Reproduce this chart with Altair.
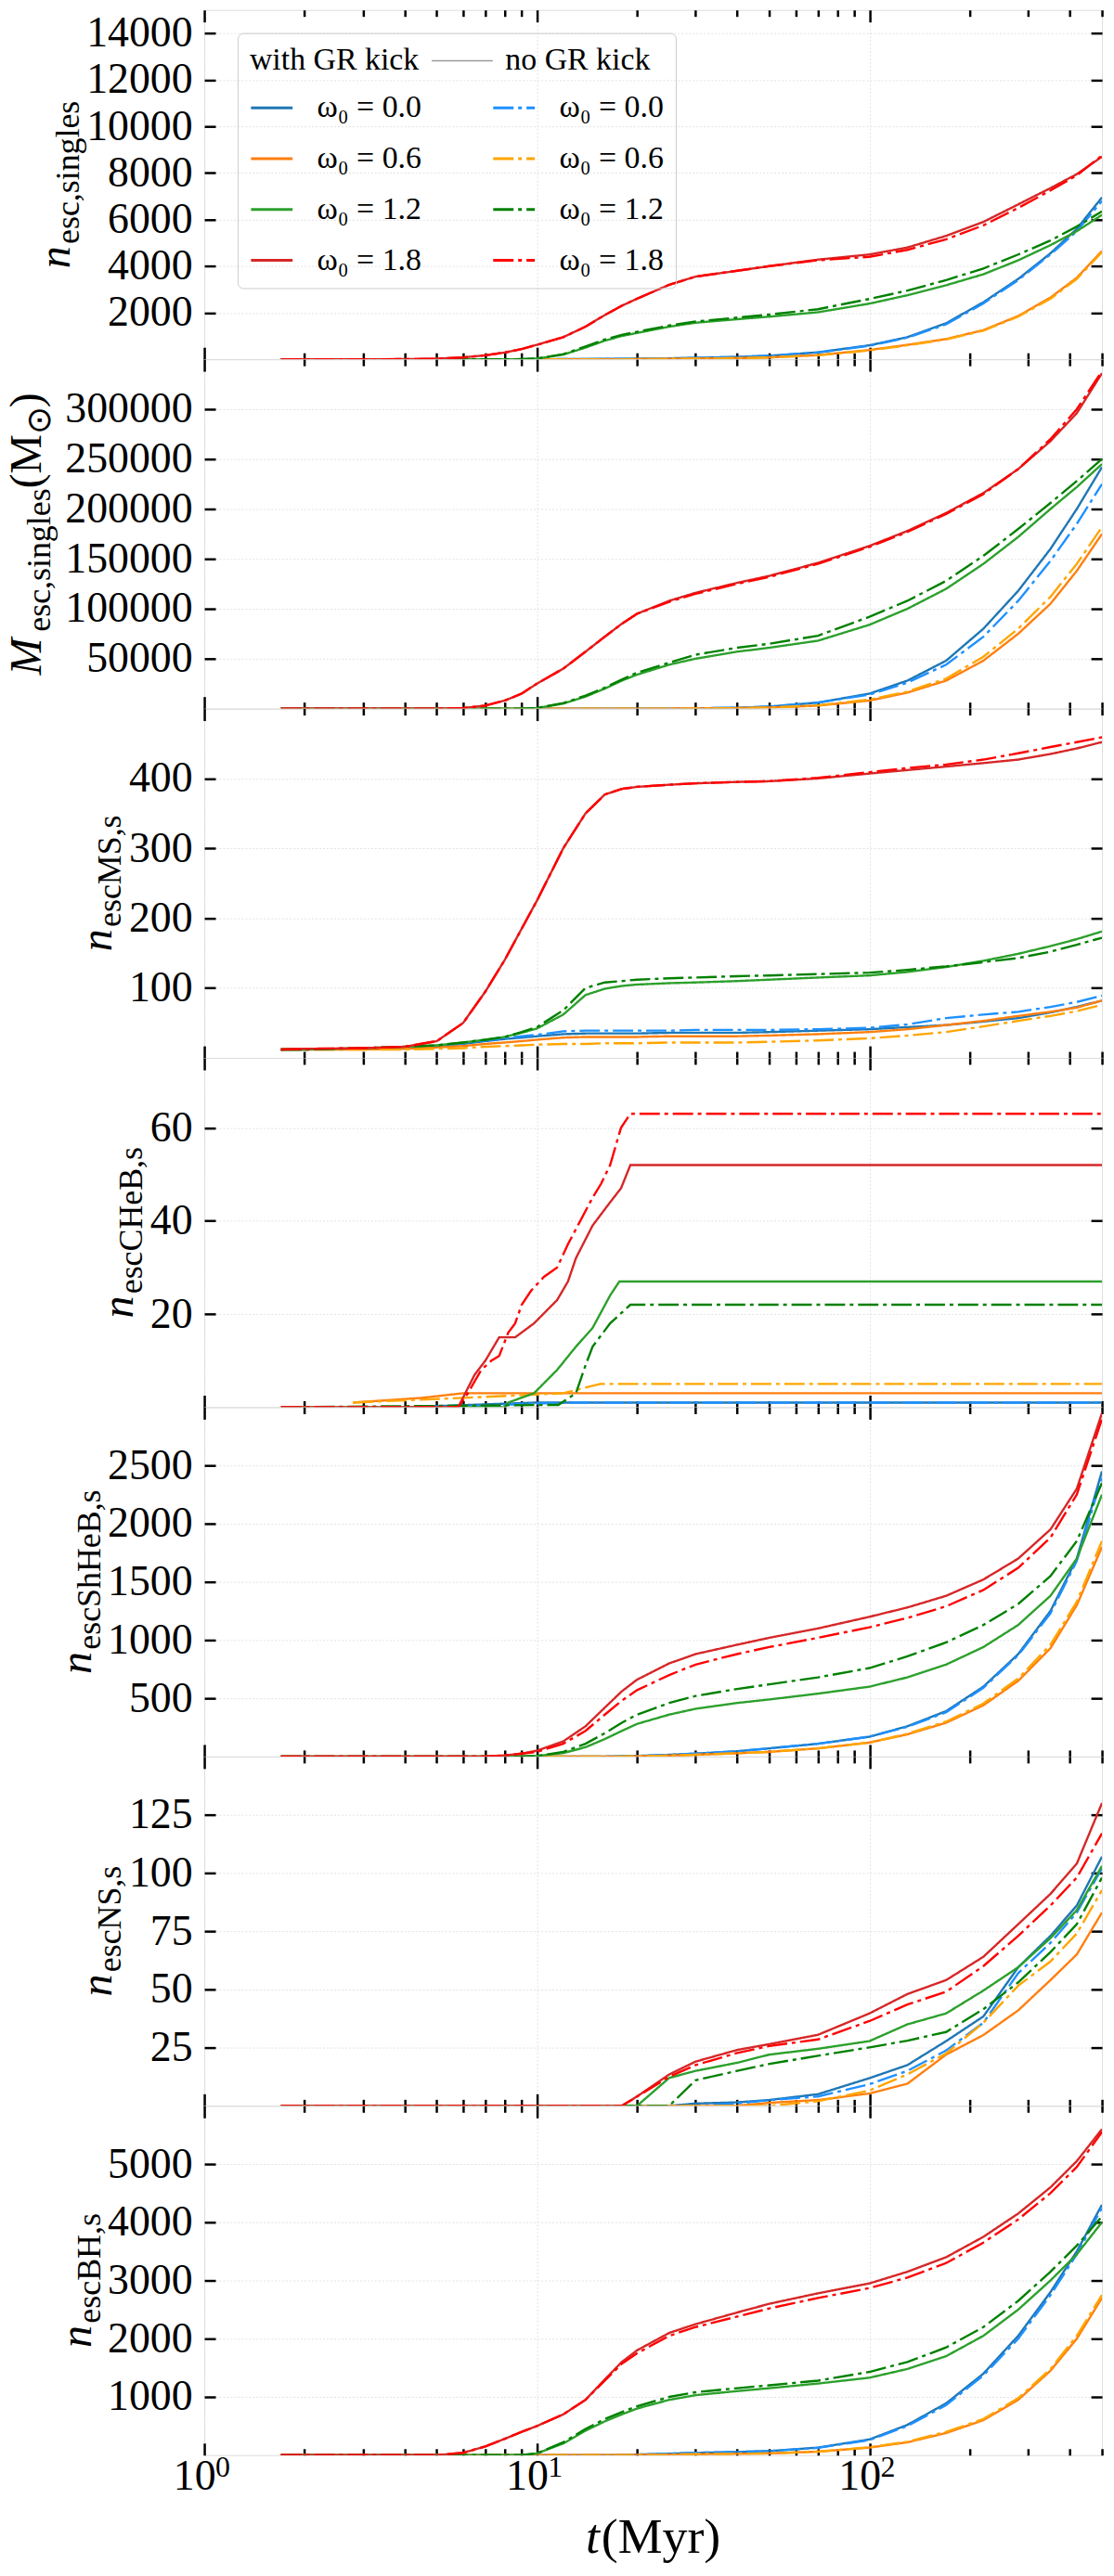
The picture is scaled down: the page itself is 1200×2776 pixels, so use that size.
import altair as alt
import pandas as pd

# ---------------- data ----------------
T = [1.7, 2, 3, 4, 5, 6, 7, 8, 9, 10, 12, 14, 16, 18, 20, 25, 30, 40, 50, 70,
     100, 130, 170, 220, 280, 350, 420, 500]

# panel 1: n_esc,singles
P1_S00 = [0, 0, 0, 0, 0, 0, 0, 0, 0, 0, 5, 10, 15, 20, 25, 40, 60, 100, 150, 300, 600, 950, 1550, 2450, 3450, 4550, 5600, 6950]
P1_D00 = [0, 0, 0, 0, 0, 0, 0, 0, 0, 0, 5, 10, 15, 20, 25, 40, 60, 100, 150, 290, 580, 930, 1500, 2400, 3400, 4500, 5500, 6800]
P1_S06 = [0, 0, 0, 0, 0, 0, 0, 0, 0, 0, 0, 0, 0, 0, 5, 15, 30, 50, 80, 180, 400, 620, 870, 1250, 1860, 2650, 3500, 4650]
P1_D06 = [0, 0, 0, 0, 0, 0, 0, 0, 0, 0, 0, 0, 0, 0, 5, 15, 30, 50, 80, 170, 380, 600, 850, 1230, 1830, 2600, 3450, 4600]
P1_S12 = [0, 0, 0, 0, 0, 0, 0, 0, 5, 30, 200, 500, 800, 1000, 1130, 1400, 1570, 1720, 1830, 2020, 2390, 2750, 3180, 3650, 4250, 4900, 5500, 6200]
P1_D12 = [0, 0, 0, 0, 0, 0, 0, 0, 5, 30, 220, 550, 850, 1050, 1180, 1450, 1620, 1790, 1920, 2150, 2590, 2950, 3400, 3900, 4500, 5100, 5700, 6350]
P1_S18 = [0, 0, 0, 5, 25, 80, 170, 290, 440, 620, 950, 1400, 1900, 2300, 2600, 3200, 3550, 3800, 4000, 4280, 4500, 4800, 5300, 5900, 6650, 7350, 7950, 8700]
P1_D18 = [0, 0, 0, 5, 25, 80, 170, 290, 440, 620, 950, 1400, 1900, 2300, 2600, 3200, 3550, 3800, 4000, 4250, 4400, 4700, 5150, 5750, 6500, 7250, 7900, 8750]

# panel 2: M_esc,singles
P2_S00 = [0, 0, 0, 0, 0, 0, 0, 0, 0, 0, 0, 0, 0, 0, 0, 0, 300, 800, 2000, 6000, 15000, 28000, 48000, 80000, 118000, 160000, 200000, 242000]
P2_D00 = [0, 0, 0, 0, 0, 0, 0, 0, 0, 0, 0, 0, 0, 0, 0, 0, 300, 800, 2000, 6000, 14000, 26000, 44000, 72000, 108000, 148000, 185000, 225000]
P2_S06 = [0, 0, 0, 0, 0, 0, 0, 0, 0, 0, 0, 0, 0, 0, 0, 0, 200, 500, 1000, 3000, 8000, 16000, 28000, 48000, 75000, 105000, 138000, 175000]
P2_D06 = [0, 0, 0, 0, 0, 0, 0, 0, 0, 0, 0, 0, 0, 0, 0, 0, 200, 500, 1000, 3200, 9000, 17000, 30000, 52000, 80000, 112000, 145000, 182000]
P2_S12 = [0, 0, 0, 0, 0, 0, 0, 0, 0, 500, 5000, 12000, 20000, 28000, 34000, 44000, 50000, 57000, 61000, 68000, 84000, 100000, 120000, 145000, 172000, 200000, 222000, 245000]
P2_D12 = [0, 0, 0, 0, 0, 0, 0, 0, 0, 500, 5500, 13000, 21000, 29000, 36000, 46000, 54000, 61000, 65000, 73000, 92000, 108000, 128000, 153000, 180000, 206000, 228000, 250000]
P2_S18 = [0, 0, 0, 0, 0, 500, 3000, 8000, 15000, 25000, 40000, 57000, 72000, 85000, 95000, 108000, 116000, 126000, 133000, 146000, 163000, 178000, 196000, 216000, 240000, 268000, 296000, 336000]
P2_D18 = [0, 0, 0, 0, 0, 500, 3000, 8000, 15000, 25000, 40000, 57000, 72000, 85000, 95000, 107000, 115000, 125000, 132000, 145000, 162000, 177000, 195000, 215000, 240000, 270000, 300000, 338000]

# panel 3: n_escMS,s
P3_S00 = [12, 12, 13, 14, 17, 20, 24, 27, 29, 31, 34, 35, 35, 35, 35, 36, 36, 36, 37, 39, 41, 44, 47, 52, 57, 65, 73, 82]
P3_D00 = [12, 12, 13, 14, 17, 21, 25, 28, 31, 33, 38, 39, 39, 39, 39, 39, 40, 40, 40, 41, 43, 48, 57, 62, 66, 73, 80, 89]
P3_S06 = [12, 12, 12, 13, 15, 17, 20, 22, 24, 26, 29, 30, 30, 30, 30, 31, 31, 31, 32, 34, 37, 41, 47, 53, 60, 66, 72, 82]
P3_D06 = [12, 12, 12, 12, 13, 14, 16, 17, 18, 19, 20, 20, 21, 21, 21, 22, 22, 22, 23, 25, 28, 32, 37, 45, 53, 60, 67, 76]
P3_S12 = [12, 12, 14, 16, 18, 22, 26, 30, 36, 42, 62, 90, 99, 103, 105, 107, 108, 110, 112, 115, 118, 123, 130, 139, 149, 160, 170, 181]
P3_D12 = [12, 12, 14, 16, 18, 22, 26, 30, 37, 44, 68, 100, 108, 110, 112, 114, 115, 117, 118, 120, 122, 126, 131, 137, 143, 152, 162, 172]
P3_S18 = [12, 13, 14, 16, 24, 50, 95, 140, 185, 225, 300, 350, 377, 385, 388, 391, 393, 395, 396, 400, 407, 412, 417, 422, 427, 435, 443, 452]
P3_D18 = [12, 13, 14, 16, 24, 50, 95, 140, 185, 225, 300, 350, 377, 385, 388, 391, 393, 395, 396, 401, 409, 415, 420, 427, 436, 445, 452, 459]

# panel 4: n_escCHeB,s (own time samples per series)
P4_T_S00 = [4.0, 10.0, 500]
P4_V_S00 = [0, 1, 1]
P4_T_D00 = [5.0, 12.0, 500]
P4_V_D00 = [0, 1, 1]
P4_T_S06 = [2.8, 4.5, 6.0, 500]
P4_V_S06 = [1, 2, 3, 3]
P4_T_D06 = [2.8, 6.0, 12.0, 15.5, 500]
P4_V_D06 = [1, 2, 3, 5, 5]
P4_T_S12 = [1.7, 8.0, 8.2, 9.8, 11.5, 13.1, 14.7, 16.6, 17.7, 500]
P4_V_S12 = [0, 0, 1, 3, 8, 13, 17, 24, 27, 27]
P4_T_D12 = [1.7, 11.6, 13.1, 14.0, 14.7, 16.6, 19.1, 500]
P4_V_D12 = [0, 0.5, 3, 9, 13, 18, 22, 22]
P4_T_S18 = [1.7, 5.8, 6.5, 7.0, 7.7, 8.6, 9.8, 11.5, 12.4, 13.1, 14.7, 16.6, 17.9, 19.1, 500]
P4_V_S18 = [0, 0, 7, 10, 15, 15, 18, 23, 27, 32, 39, 44, 47, 52, 52]
P4_T_D18 = [1.7, 5.8, 6.2, 6.8, 7.3, 7.7, 8.2, 8.6, 9.0, 9.6, 10.5, 11.5, 12.4, 13.5, 14.7, 15.6, 16.6, 17.9, 19.1, 500]
P4_V_D18 = [0, 0, 3, 8, 10, 11, 16, 18, 22, 25, 28, 30, 35, 40, 45, 48, 52, 60, 63, 63]

# panel 5: n_escShHeB,s
P5_S00 = [0, 0, 0, 0, 0, 0, 0, 0, 0, 0, 0, 0, 0, 3, 5, 15, 25, 45, 70, 110, 170, 260, 390, 600, 880, 1250, 1700, 2450]
P5_D00 = [0, 0, 0, 0, 0, 0, 0, 0, 0, 0, 0, 0, 0, 3, 5, 15, 25, 45, 70, 110, 170, 255, 380, 590, 870, 1230, 1680, 2400]
P5_S06 = [0, 0, 0, 0, 0, 0, 0, 0, 0, 0, 0, 0, 0, 0, 2, 8, 15, 28, 40, 70, 120, 190, 290, 440, 650, 930, 1300, 1800]
P5_D06 = [0, 0, 0, 0, 0, 0, 0, 0, 0, 0, 0, 0, 0, 0, 2, 8, 15, 28, 40, 70, 120, 195, 300, 455, 670, 960, 1330, 1850]
P5_S12 = [0, 0, 0, 0, 0, 0, 0, 0, 0, 5, 30, 80, 150, 220, 280, 360, 410, 460, 490, 540, 600, 680, 790, 940, 1130, 1380, 1700, 2250]
P5_D12 = [0, 0, 0, 0, 0, 0, 0, 0, 0, 5, 40, 110, 200, 290, 360, 460, 520, 580, 620, 680, 760, 860, 980, 1130, 1310, 1550, 1850, 2350]
P5_S18 = [0, 0, 0, 0, 0, 0, 0, 10, 25, 50, 130, 260, 420, 560, 660, 800, 880, 960, 1020, 1100, 1200, 1280, 1380, 1520, 1700, 1950, 2300, 2950]
P5_D18 = [0, 0, 0, 0, 0, 0, 0, 10, 25, 40, 110, 220, 360, 480, 570, 700, 790, 880, 940, 1020, 1110, 1190, 1290, 1430, 1620, 1880, 2250, 2900]

# panel 6: n_escNS,s
P6_S00 = [0, 0, 0, 0, 0, 0, 0, 0, 0, 0, 0, 0, 0, 0, 0, 0, 1, 1.5, 2.5, 5, 11.9, 17.5, 27.8, 38.4, 59.5, 73, 86, 107]
P6_D00 = [0, 0, 0, 0, 0, 0, 0, 0, 0, 0, 0, 0, 0, 0, 0, 0, 0, 1, 2.5, 4, 9.3, 15, 23.8, 35.7, 57, 70, 83, 102]
P6_S06 = [0, 0, 0, 0, 0, 0, 0, 0, 0, 0, 0, 0, 0, 0, 0, 0, 0, 0, 1.3, 2.5, 5.3, 9.5, 22, 30.4, 41, 54, 65, 83]
P6_D06 = [0, 0, 0, 0, 0, 0, 0, 0, 0, 0, 0, 0, 0, 0, 0, 0, 0, 0, 0, 2, 6.6, 13.5, 22.5, 35.7, 51.6, 62, 74, 92.6]
P6_S12 = [0, 0, 0, 0, 0, 0, 0, 0, 0, 0, 0, 0, 0, 0, 0, 12, 15, 18.5, 22, 24.5, 27.8, 35, 39.7, 49.5, 59.5, 72, 84, 103]
P6_D12 = [0, 0, 0, 0, 0, 0, 0, 0, 0, 0, 0, 0, 0, 0, 0, 0, 11, 15, 18, 21.5, 25.1, 28, 31.7, 41.5, 53, 66, 78, 98]
P6_S18 = [0, 0, 0, 0, 0, 0, 0, 0, 0, 0, 0, 0, 0, 0, 4, 13.5, 19, 24, 26.5, 30.5, 39.7, 48, 54, 64, 78, 91, 104, 130]
P6_D18 = [0, 0, 0, 0, 0, 0, 0, 0, 0, 0, 0, 0, 0, 0, 4, 12.5, 17.5, 22.7, 25.7, 28.5, 36.4, 43.5, 49, 60, 73, 86, 98, 117]

# panel 7: n_escBH,s
P7_S00 = [0, 0, 0, 0, 0, 0, 0, 0, 0, 0, 0, 0, 0, 5, 10, 25, 40, 55, 70, 130, 270, 520, 890, 1400, 2050, 2800, 3500, 4300]
P7_D00 = [0, 0, 0, 0, 0, 0, 0, 0, 0, 0, 0, 0, 0, 5, 10, 25, 40, 55, 70, 125, 260, 500, 860, 1370, 2000, 2750, 3450, 4250]
P7_S06 = [0, 0, 0, 0, 0, 0, 0, 0, 0, 0, 0, 0, 0, 0, 3, 8, 15, 22, 30, 60, 130, 220, 380, 600, 950, 1450, 2000, 2700]
P7_D06 = [0, 0, 0, 0, 0, 0, 0, 0, 0, 0, 0, 0, 0, 0, 3, 8, 15, 22, 30, 60, 135, 230, 400, 620, 980, 1480, 2050, 2750]
P7_S12 = [0, 0, 0, 0, 0, 0, 0, 0, 0, 30, 200, 420, 580, 700, 800, 950, 1030, 1100, 1150, 1230, 1330, 1480, 1700, 2050, 2500, 3000, 3450, 4000]
P7_D12 = [0, 0, 0, 0, 0, 0, 0, 0, 0, 30, 220, 450, 620, 740, 840, 1000, 1080, 1150, 1200, 1280, 1430, 1600, 1850, 2200, 2650, 3150, 3600, 4100]
P7_S18 = [0, 0, 0, 0, 0, 40, 150, 280, 400, 500, 700, 950, 1300, 1600, 1800, 2100, 2250, 2450, 2600, 2780, 2950, 3150, 3400, 3750, 4150, 4600, 5050, 5600]
P7_D18 = [0, 0, 0, 0, 0, 40, 150, 280, 400, 500, 700, 950, 1280, 1570, 1750, 2050, 2200, 2380, 2520, 2700, 2870, 3050, 3300, 3650, 4050, 4500, 4950, 5550]

# series order of the data tuples in each panel
SERIES = ["s|0.0", "d|0.0", "s|0.6", "d|0.6", "s|1.2", "d|1.2", "s|1.8", "d|1.8"]
# legend order (left column: with GR kick, right column: no GR kick)
LEG_ORDER = ["s|0.0", "s|0.6", "s|1.2", "s|1.8", "d|0.0", "d|0.6", "d|1.2", "d|1.8"]
LEG_COLORS = ["#1f77b4", "#ff7f0e", "#2ca02c", "#d62728", "#1e90ff", "#ffa500", "#008000", "#ff0000"]
DD = [22, 5, 4, 5]
LEG_DASHES = [[1, 0], [1, 0], [1, 0], [1, 0], DD, DD, DD, DD]

X_MAJOR = [1, 10, 100]
X_EXPONENT = ["0", "1", "2"]
X_MINOR = [2, 3, 4, 5, 6, 7, 8, 9, 20, 30, 40, 50, 60, 70, 80, 90, 200, 300, 400, 500]

PANELS = [
    dict(data=[(T, P1_S00), (T, P1_D00), (T, P1_S06), (T, P1_D06), (T, P1_S12), (T, P1_D12), (T, P1_S18), (T, P1_D18)],
         domain=[0, 15000], ticks=[2000, 4000, 6000, 8000, 10000, 12000, 14000],
         title=[("n", "m", "italic"), ("esc,singles", "s", "normal")]),
    dict(data=[(T, P2_S00), (T, P2_D00), (T, P2_S06), (T, P2_D06), (T, P2_S12), (T, P2_D12), (T, P2_S18), (T, P2_D18)],
         domain=[0, 350000], ticks=[50000, 100000, 150000, 200000, 250000, 300000],
         title=[("M", "m", "italic"), ("esc,singles", "s", "normal"), ("(M", "m", "normal"), ("\u2299", "s", "normal"), (")", "m", "normal")]),
    dict(data=[(T, P3_S00), (T, P3_D00), (T, P3_S06), (T, P3_D06), (T, P3_S12), (T, P3_D12), (T, P3_S18), (T, P3_D18)],
         domain=[0, 500], ticks=[100, 200, 300, 400],
         title=[("n", "m", "italic"), ("escMS,s", "s", "normal")]),
    dict(data=[(P4_T_S00, P4_V_S00), (P4_T_D00, P4_V_D00), (P4_T_S06, P4_V_S06), (P4_T_D06, P4_V_D06),
               (P4_T_S12, P4_V_S12), (P4_T_D12, P4_V_D12), (P4_T_S18, P4_V_S18), (P4_T_D18, P4_V_D18)],
         domain=[0, 75], ticks=[20, 40, 60],
         title=[("n", "m", "italic"), ("escCHeB,s", "s", "normal")]),
    dict(data=[(T, P5_S00), (T, P5_D00), (T, P5_S06), (T, P5_D06), (T, P5_S12), (T, P5_D12), (T, P5_S18), (T, P5_D18)],
         domain=[0, 3000], ticks=[500, 1000, 1500, 2000, 2500],
         title=[("n", "m", "italic"), ("escShHeB,s", "s", "normal")]),
    dict(data=[(T, P6_S00), (T, P6_D00), (T, P6_S06), (T, P6_D06), (T, P6_S12), (T, P6_D12), (T, P6_S18), (T, P6_D18)],
         domain=[0, 150], ticks=[25, 50, 75, 100, 125],
         title=[("n", "m", "italic"), ("escNS,s", "s", "normal")]),
    dict(data=[(T, P7_S00), (T, P7_D00), (T, P7_S06), (T, P7_D06), (T, P7_S12), (T, P7_D12), (T, P7_S18), (T, P7_D18)],
         domain=[0, 6000], ticks=[1000, 2000, 3000, 4000, 5000],
         title=[("n", "m", "italic"), ("escBH,s", "s", "normal")]),
]

# ---------------- styling ----------------
FONT = "Liberation Serif"
W, H = 971, 378
FS_TICK = 46
FS_MAIN = 48
FS_SUB = 36
FS_LEG = 34
GRID = "#e2e2e2"
ONE = pd.DataFrame({"k": [0]})

EM = {"a": .444, "b": .5, "c": .444, "e": .444, "g": .5, "h": .5, "i": .278, "l": .278, "n": .5,
      "s": .389, ",": .25, "M": .889, "S": .556, "C": .667, "H": .722, "B": .667, "N": .722,
      "(": .333, ")": .333, "\u2299": .8, "t": .278, "y": .5, "r": .333}


def text_len(s, size):
    return sum(EM.get(ch, 0.5) for ch in s) * size


NB = "\u00a0"
LEGEND = alt.Legend(
    orient="none", legendX=36, legendY=25, columns=2, direction="vertical",
    title="with GR kick" + NB * 11 + "no GR kick", titleFont=FONT, titleFontSize=FS_LEG,
    titleFontWeight="normal", titleColor="black", titlePadding=10, titleLimit=1000,
    labelFont=FONT, labelFontSize=FS_LEG, labelColor="black", labelOffset=25, labelLimit=400,
    labelExpr="'\u03c9\u2080 = ' + slice(datum.label, 2)",
    symbolType="stroke", symbolSize=2025, symbolStrokeWidth=3,
    columnPadding=71, rowPadding=14, padding=13,
    strokeColor="#cccccc", cornerRadius=6,
)


def axis_ticks_only(orient, values, size):
    return alt.Axis(orient=orient, values=values, tickSize=alt.ExprRef(expr=str(-size)),
                    tickWidth=2.5, tickColor="black", labels=False, domain=False,
                    grid=False, title=None)


def make_panel(idx, spec, last):
    rows = []
    for key, (ts, vs) in zip(SERIES, spec["data"]):
        for t, v in zip(ts, vs):
            rows.append({"t": t, "v": v, "series": key})
    df = pd.DataFrame(rows)
    lo, hi = spec["domain"]
    xs = alt.Scale(type="log", domain=[1, 500], nice=False)
    ys = alt.Scale(domain=[lo, hi], nice=False, zero=False)

    x_main = alt.Axis(
        orient="bottom", values=X_MAJOR, tickSize=alt.ExprRef(expr="-13"), tickWidth=2.5,
        tickColor="black", labels=last, domain=False, grid=True, gridColor=GRID,
        gridDash=[2, 2], gridWidth=1, title=None, labelFlush=False, labelOverlap=False,
        labelExpr="'10'", labelOffset=-11,
        labelFont=FONT, labelFontSize=FS_TICK, labelPadding=14, labelColor="black")
    y_main = alt.Axis(
        orient="left", values=spec["ticks"], format="d", tickSize=alt.ExprRef(expr="-12"),
        tickWidth=2.5, tickColor="black", domain=False, grid=True, gridColor=GRID,
        gridDash=[2, 2], gridWidth=1, title=None, labelFont=FONT, labelFontSize=FS_TICK,
        labelPadding=25, labelColor="black", labelOverlap=False)

    lines = alt.Chart(df).mark_line(strokeWidth=2.4, clip=True).encode(
        x=alt.X("t:Q", scale=xs, axis=x_main),
        y=alt.Y("v:Q", scale=ys, axis=y_main),
        color=alt.Color("series:N", scale=alt.Scale(domain=LEG_ORDER, range=LEG_COLORS), legend=LEGEND),
        strokeDash=alt.StrokeDash("series:N", scale=alt.Scale(domain=LEG_ORDER, range=LEG_DASHES), legend=LEGEND),
        detail="series:N",
    )

    pt = pd.DataFrame({"t": [10], "v": [lo]})
    l2 = alt.Chart(pt).mark_point(opacity=0, size=0).encode(
        x=alt.X("t:Q", scale=xs, axis=axis_ticks_only("bottom", X_MINOR, 7)),
        y=alt.Y("v:Q", scale=ys, axis=axis_ticks_only("right", spec["ticks"], 12)),
    )
    l3 = alt.Chart(pt).mark_point(opacity=0, size=0).encode(
        x=alt.X("t:Q", scale=xs, axis=axis_ticks_only("top", X_MAJOR, 13)),
        y=alt.Y("v:Q", scale=ys, axis=None),
    )
    l4 = alt.Chart(pt).mark_point(opacity=0, size=0).encode(
        x=alt.X("t:Q", scale=xs, axis=axis_ticks_only("top", X_MINOR, 7)),
        y=alt.Y("v:Q", scale=ys, axis=None),
    )

    layers = [lines, l2, l3, l4]

    if idx == 0:
        # thin grey sample line of the legend header ("with GR kick ---- no GR kick")
        layers.append(alt.Chart(ONE).mark_rule(color="#9a9a9a", strokeWidth=1.5).encode(
            x=alt.value(246), x2=alt.value(312), y=alt.value(55)))

    # rotated y title composed of main text and subscripts
    nd = len(str(spec["ticks"][-1]))
    label_left = -(13 + nd * FS_TICK * 0.5)
    base_x = label_left - (26 if idx == 1 else 18)
    pieces = []
    total = 0
    for txt, kind, style in spec["title"]:
        size = FS_MAIN if kind == "m" else FS_SUB
        ln = text_len(txt, size) * (1.1 if style == "italic" else 1.0)
        pieces.append((txt, size, style, kind, total))
        total += ln
    start = H / 2 + total / 2
    for txt, size, style, kind, off in pieces:
        dx = 0 if kind == "m" else 10
        layers.append(
            alt.Chart(ONE).mark_text(
                text=txt, angle=270, align="left", baseline="alphabetic", font=FONT,
                fontSize=size, fontStyle=style, color="black",
            ).encode(x=alt.value(base_x + dx), y=alt.value(start - off))
        )

    if last:
        # exponents of the 10^k tick labels
        sup = pd.DataFrame({"t": X_MAJOR, "e": X_EXPONENT})
        layers.append(alt.Chart(sup).mark_text(
            align="left", baseline="alphabetic", font=FONT, fontSize=32, dx=12, color="black",
        ).encode(x=alt.X("t:Q", scale=xs, axis=None), y=alt.value(H + 23), text="e:N"))

        fs = 54
        t_len = text_len("t", fs) + 2
        m_len = text_len("(Myr)", fs)
        x0 = W / 2 - (t_len + m_len) / 2
        layers.append(alt.Chart(ONE).mark_text(
            text="t", align="left", baseline="alphabetic", font=FONT, fontSize=fs,
            fontStyle="italic", color="black").encode(x=alt.value(x0), y=alt.value(H + 106)))
        layers.append(alt.Chart(ONE).mark_text(
            text="(Myr)", align="left", baseline="alphabetic", font=FONT, fontSize=fs,
            color="black").encode(x=alt.value(x0 + t_len), y=alt.value(H + 106)))

    return alt.layer(*layers).resolve_axis(x="independent", y="independent").properties(
        width=W, height=H)


panels = [make_panel(i, p, i == len(PANELS) - 1) for i, p in enumerate(PANELS)]

chart = alt.vconcat(*panels, spacing=0, bounds="flush").properties(
    padding={"left": 5, "top": 3, "right": 11, "bottom": 5},
).configure_view(stroke="black", strokeWidth=2.5).configure(background="white")

chart.save("out.html", embed_options={"renderer": "svg", "actions": False})
